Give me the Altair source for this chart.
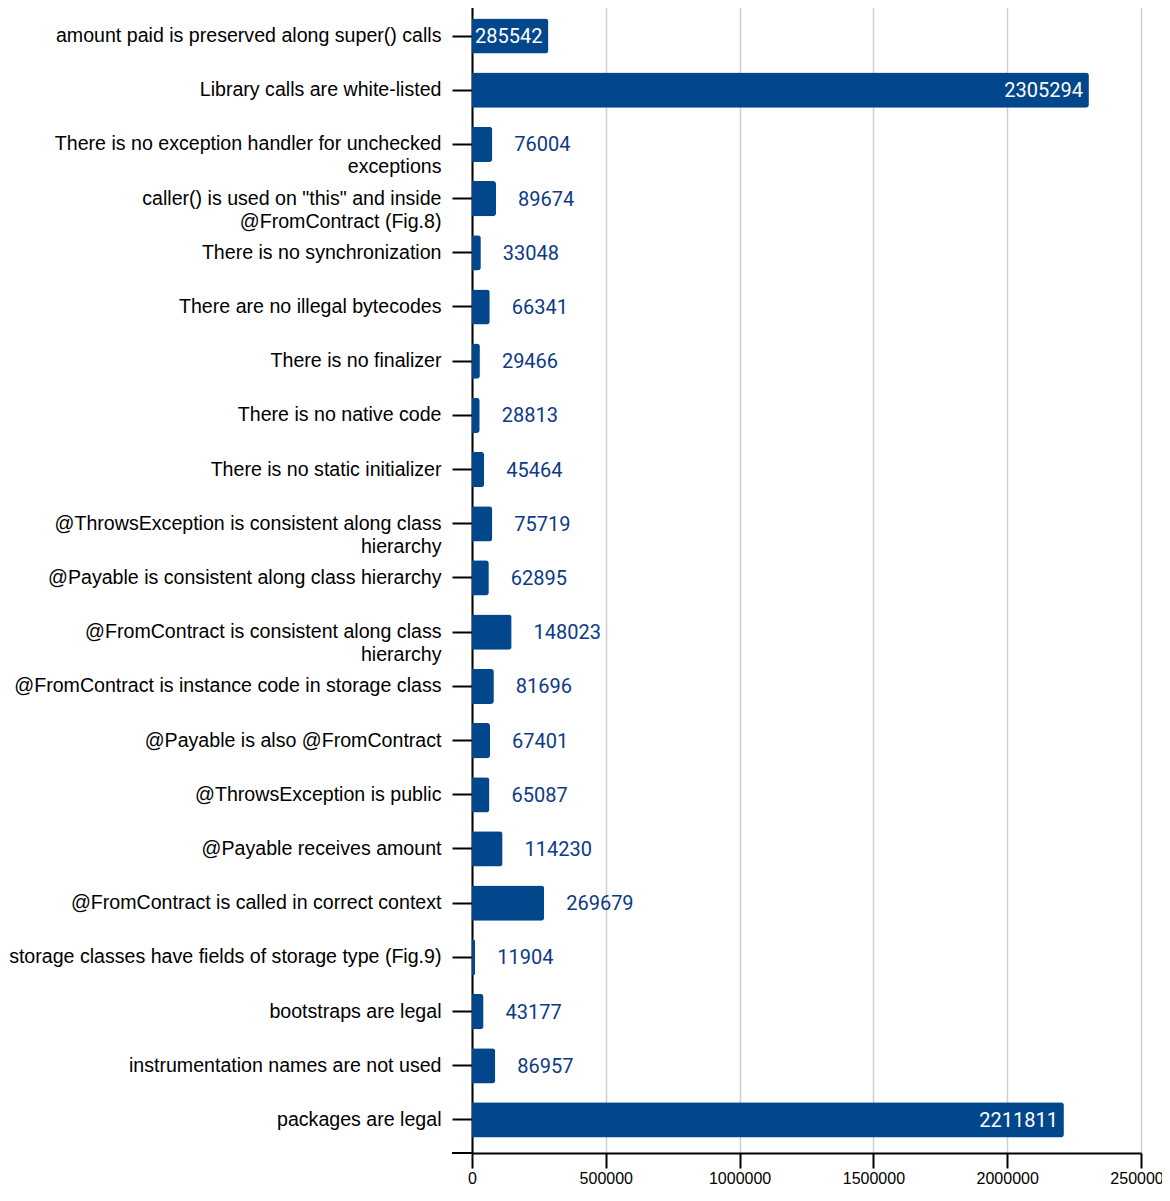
import altair as alt
import pandas as pd

categories = [
    "amount paid is preserved along super() calls",
    "Library calls are white-listed",
    "There is no exception handler for unchecked|exceptions",
    "caller() is used on \"this\" and inside|@FromContract (Fig.8)",
    "There is no synchronization",
    "There are no illegal bytecodes",
    "There is no finalizer",
    "There is no native code",
    "There is no static initializer",
    "@ThrowsException is consistent along class|hierarchy",
    "@Payable is consistent along class hierarchy",
    "@FromContract is consistent along class|hierarchy",
    "@FromContract is instance code in storage class",
    "@Payable is also @FromContract",
    "@ThrowsException is public",
    "@Payable receives amount",
    "@FromContract is called in correct context",
    "storage classes have fields of storage type (Fig.9)",
    "bootstraps are legal",
    "instrumentation names are not used",
    "packages are legal",
]
values = [285542, 2305294, 76004, 89674, 33048, 66341, 29466, 28813, 45464,
          75719, 62895, 148023, 81696, 67401, 65087, 114230, 269679, 11904,
          43177, 86957, 2211811]
x_ticks = [0, 500000, 1000000, 1500000, 2000000, 2500000]

INSIDE_MIN = 280000
df = pd.DataFrame({"cat": categories, "value": values})
df["inside"] = df["value"] >= INSIDE_MIN

W, H = 669, 1153
BAR = "#02478C"
TXT = "#0D3A86"

y_enc = alt.Y(
    "cat:N", sort=categories, title=None,
    scale=alt.Scale(paddingInner=0.35, paddingOuter=0.3118, align=0.544),
    axis=alt.Axis(
        labelFont="Liberation Sans", labelFontSize=19.6, labelColor="#000",
        labelLimit=0, labelPadding=11, labelLineHeight=23,
        labelExpr="split(datum.label, '|')",
        tickSize=20, tickColor="#000", tickWidth=2,
        domainColor="#000", domainWidth=2, grid=False,
    ),
)
x_enc = alt.X(
    "value:Q", title=None,
    scale=alt.Scale(domain=[0, 2500000], nice=False),
    axis=alt.Axis(
        values=x_ticks, format="d",
        labelFont="Liberation Sans", labelFontSize=16, labelColor="#000",
        labelPadding=2, labelFlush=False, labelOverlap=False,
        tickSize=15, tickColor="#000", tickWidth=2,
        domainColor="#000", domainWidth=2,
        grid=True, gridColor="#cfcfcf", gridWidth=1.5,
    ),
)

base = alt.Chart(df)
bars = base.mark_bar(color=BAR, cornerRadiusEnd=3).encode(y=y_enc, x=x_enc)
outside = base.transform_filter("!datum.inside").mark_text(
    align="left", baseline="middle", dx=22, dy=1,
    font="Roboto", fontSize=20, color=TXT,
).encode(y=alt.Y("cat:N", sort=categories), x="value:Q", text=alt.Text("value:Q", format="d"))
inside = base.transform_filter("datum.inside").mark_text(
    align="right", baseline="middle", dx=-6, dy=1,
    font="Roboto", fontSize=20, color="#ffffff",
).encode(y=alt.Y("cat:N", sort=categories), x="value:Q", text=alt.Text("value:Q", format="d"))
stub = alt.Chart(df).mark_rule(color="#000", strokeWidth=2).encode(
    x=alt.value(-20), x2=alt.value(0), y=alt.value(H)
)

chart = alt.layer(bars, outside, inside, stub).properties(
    width=W, height=H,
    autosize=alt.AutoSizeParams(type="none"),
    padding={"left": 464, "top": -8, "right": 21, "bottom": 35},
).configure_view(stroke=None)

chart.save("out.html", embed_options={"renderer": "svg", "actions": False})
